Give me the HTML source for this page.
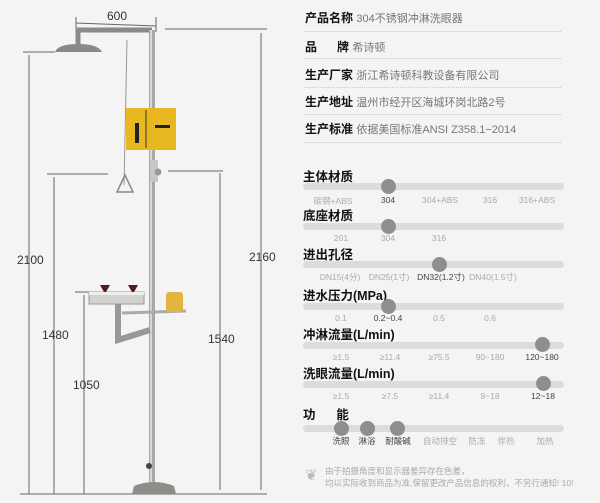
<!DOCTYPE html><html><head><meta charset="utf-8"><style>
body{margin:0;width:600px;height:503px;background:#f4f4f4;overflow:hidden;position:relative;font-family:"Liberation Sans","Noto Sans CJK SC",sans-serif}
.a{position:absolute;white-space:nowrap}
.lb{font-size:12px;font-weight:bold;color:#111}
.v{font-size:11px;color:#777;font-weight:normal}
.dot{position:absolute;left:305px;width:256px;border-top:1px dotted #ccc}
.tt{font-size:12.5px;font-weight:bold;color:#111}
.tr{position:absolute;left:303px;width:261px;height:7px;border-radius:4px;background:#dcdcdc}
.k{position:absolute;width:15px;height:15px;border-radius:50%;background:#8e8e8e}
.s{font-size:8.5px;color:#aaa;transform:translateX(-50%)}
.s.d{color:#444}
</style></head><body>
<svg class="a" style="left:0;top:0" width="300" height="503">
<g stroke="#666" stroke-width="1" fill="none">
<line x1="76" y1="23" x2="156" y2="26"/><line x1="76" y1="17" x2="76" y2="29"/><line x1="156" y1="17" x2="156" y2="32"/>
<line x1="23" y1="52" x2="55" y2="52"/><line x1="29" y1="55" x2="29" y2="494"/>
<line x1="47" y1="174" x2="108" y2="174"/><line x1="54" y1="177" x2="54" y2="494"/>
<line x1="75" y1="292" x2="95" y2="292"/><line x1="84" y1="295" x2="84" y2="494"/>
<line x1="165" y1="29" x2="267" y2="29"/><line x1="261" y1="33" x2="261" y2="490"/>
<line x1="168" y1="171" x2="223" y2="171"/><line x1="220" y1="173" x2="220" y2="490"/>
<line x1="20" y1="494" x2="267" y2="494"/>
</g>
<g font-family="Liberation Sans" font-size="12" fill="#333">
<text x="107" y="20">600</text><text x="17" y="264">2100</text><text x="42" y="339">1480</text><text x="73" y="389">1050</text>
<text x="249" y="261">2160</text><text x="208" y="343">1540</text></g>
<path d="M78 45 L78 30 L152 30" stroke="#8d8a85" stroke-width="5" fill="none"/>
<rect x="149" y="30" width="6" height="456" fill="#a9a7a3"/><rect x="150" y="30" width="2" height="456" fill="#d8d6d2"/>
<path d="M55 52 Q58 44 78 44 Q98 44 102 52 Z" fill="#8b8885"/>
<line x1="127" y1="40" x2="124" y2="185" stroke="#999"/>
<path d="M125 175 L117 192 L133 192 Z" stroke="#888" stroke-width="1.5" fill="none"/>
<rect x="126" y="108" width="50" height="42" fill="#e8b820"/><line x1="146" y1="110" x2="146" y2="148" stroke="#333"/>
<rect x="135" y="123" width="4" height="20" fill="#222"/><rect x="155" y="125" width="15" height="3" fill="#222"/>
<rect x="150" y="160" width="8" height="22" fill="#c9c7c3"/><circle cx="158" cy="172" r="3.5" fill="#999"/>
<rect x="89" y="292" width="55" height="12" fill="#d4d2ce" stroke="#999"/><rect x="89" y="292" width="55" height="3" fill="#eee"/>
<path d="M100 285 L110 285 L106 292 L104 292 Z" fill="#5a1a1a"/><path d="M128 285 L138 285 L134 292 L132 292 Z" fill="#5a1a1a"/>
<path d="M118 304 L118 340 L150 330" stroke="#9a9894" stroke-width="6" fill="none"/>
<line x1="122" y1="313" x2="186" y2="311" stroke="#aaa" stroke-width="3"/>
<rect x="166" y="292" width="17" height="20" rx="3" fill="#e3b43e"/>
<path d="M134 486 Q154 478 174 486 L176 494 L132 494 Z" fill="#8f8d8a"/>
<circle cx="149" cy="466" r="3" fill="#444"/>
</svg>
<div class="a lb" style="left:305px;top:9px">产品名称 <span class="v">304不锈钢冲淋洗眼器</span></div>
<div class="a lb" style="left:305px;top:38px">品&nbsp;&nbsp;&nbsp;&nbsp;&nbsp;&nbsp;牌 <span class="v">希诗顿</span></div>
<div class="a lb" style="left:305px;top:66px">生产厂家 <span class="v">浙江希诗顿科教设备有限公司</span></div>
<div class="a lb" style="left:305px;top:93px">生产地址 <span class="v">温州市经开区海城环岗北路2号</span></div>
<div class="a lb" style="left:305px;top:120px">生产标准 <span class="v">依据美国标准ANSI Z358.1−2014</span></div>
<div class="dot" style="top:31px"></div><div class="dot" style="top:58px"></div><div class="dot" style="top:87px"></div><div class="dot" style="top:114px"></div><div class="dot" style="top:142px"></div>

<div class="a tt" style="left:303px;top:166px">主体材质</div><div class="tr" style="top:183px"></div><div class="k" style="left:381px;top:179px"></div>
<div class="a s" style="left:333px;top:195px">碳钢+ABS</div><div class="a s d" style="left:388px;top:195px">304</div><div class="a s" style="left:440px;top:195px">304+ABS</div><div class="a s" style="left:490px;top:195px">316</div><div class="a s" style="left:537px;top:195px">316+ABS</div>

<div class="a tt" style="left:303px;top:205px">底座材质</div><div class="tr" style="top:223px"></div><div class="k" style="left:381px;top:219px"></div>
<div class="a s" style="left:341px;top:233px">201</div><div class="a s" style="left:388px;top:233px">304</div><div class="a s" style="left:439px;top:233px">316</div>

<div class="a tt" style="left:303px;top:244px">进出孔径</div><div class="tr" style="top:261px"></div><div class="k" style="left:432px;top:257px"></div>
<div class="a s" style="left:340px;top:271px">DN15(4分)</div><div class="a s" style="left:389px;top:271px">DN25(1寸)</div><div class="a s d" style="left:441px;top:271px">DN32(1.2寸)</div><div class="a s" style="left:493px;top:271px">DN40(1.5寸)</div>

<div class="a tt" style="left:303px;top:285px">进水压力(MPa)</div><div class="tr" style="top:303px"></div><div class="k" style="left:381px;top:299px"></div>
<div class="a s" style="left:341px;top:313px">0.1</div><div class="a s d" style="left:388px;top:313px">0.2~0.4</div><div class="a s" style="left:439px;top:313px">0.5</div><div class="a s" style="left:490px;top:313px">0.6</div>

<div class="a tt" style="left:303px;top:324px">冲淋流量(L/min)</div><div class="tr" style="top:342px"></div><div class="k" style="left:535px;top:337px"></div>
<div class="a s" style="left:341px;top:352px">≥1.5</div><div class="a s" style="left:390px;top:352px">≥11.4</div><div class="a s" style="left:439px;top:352px">≥75.5</div><div class="a s" style="left:490px;top:352px">90~180</div><div class="a s d" style="left:542px;top:352px">120~180</div>

<div class="a tt" style="left:303px;top:363px">洗眼流量(L/min)</div><div class="tr" style="top:381px"></div><div class="k" style="left:536px;top:376px"></div>
<div class="a s" style="left:341px;top:391px">≥1.5</div><div class="a s" style="left:390px;top:391px">≥7.5</div><div class="a s" style="left:439px;top:391px">≥11.4</div><div class="a s" style="left:490px;top:391px">9~18</div><div class="a s d" style="left:543px;top:391px">12~18</div>

<div class="a tt" style="left:303px;top:404px">功&nbsp;&nbsp;&nbsp;&nbsp;&nbsp;&nbsp;能</div><div class="tr" style="top:425px"></div>
<div class="k" style="left:334px;top:421px"></div><div class="k" style="left:360px;top:421px"></div><div class="k" style="left:390px;top:421px"></div>
<div class="a s d" style="left:341px;top:435px">洗眼</div><div class="a s d" style="left:367px;top:435px">淋浴</div><div class="a s d" style="left:398px;top:435px">耐酸碱</div><div class="a s" style="left:440px;top:435px">自动排空</div><div class="a s" style="left:477px;top:435px">防冻</div><div class="a s" style="left:506px;top:435px">伴热</div><div class="a s" style="left:545px;top:435px">加热</div>

<div class="a" style="left:305px;top:466px;color:#bbb;font-size:15px">❦</div>
<div class="a" style="left:325px;top:465px;font-size:8.5px;color:#aaa;line-height:12px">由于拍摄角度和显示器差异存在色差，<br>均以实际收到商品为准,保留更改产品信息的权利，不另行通知! 10!</div>
</body></html>
